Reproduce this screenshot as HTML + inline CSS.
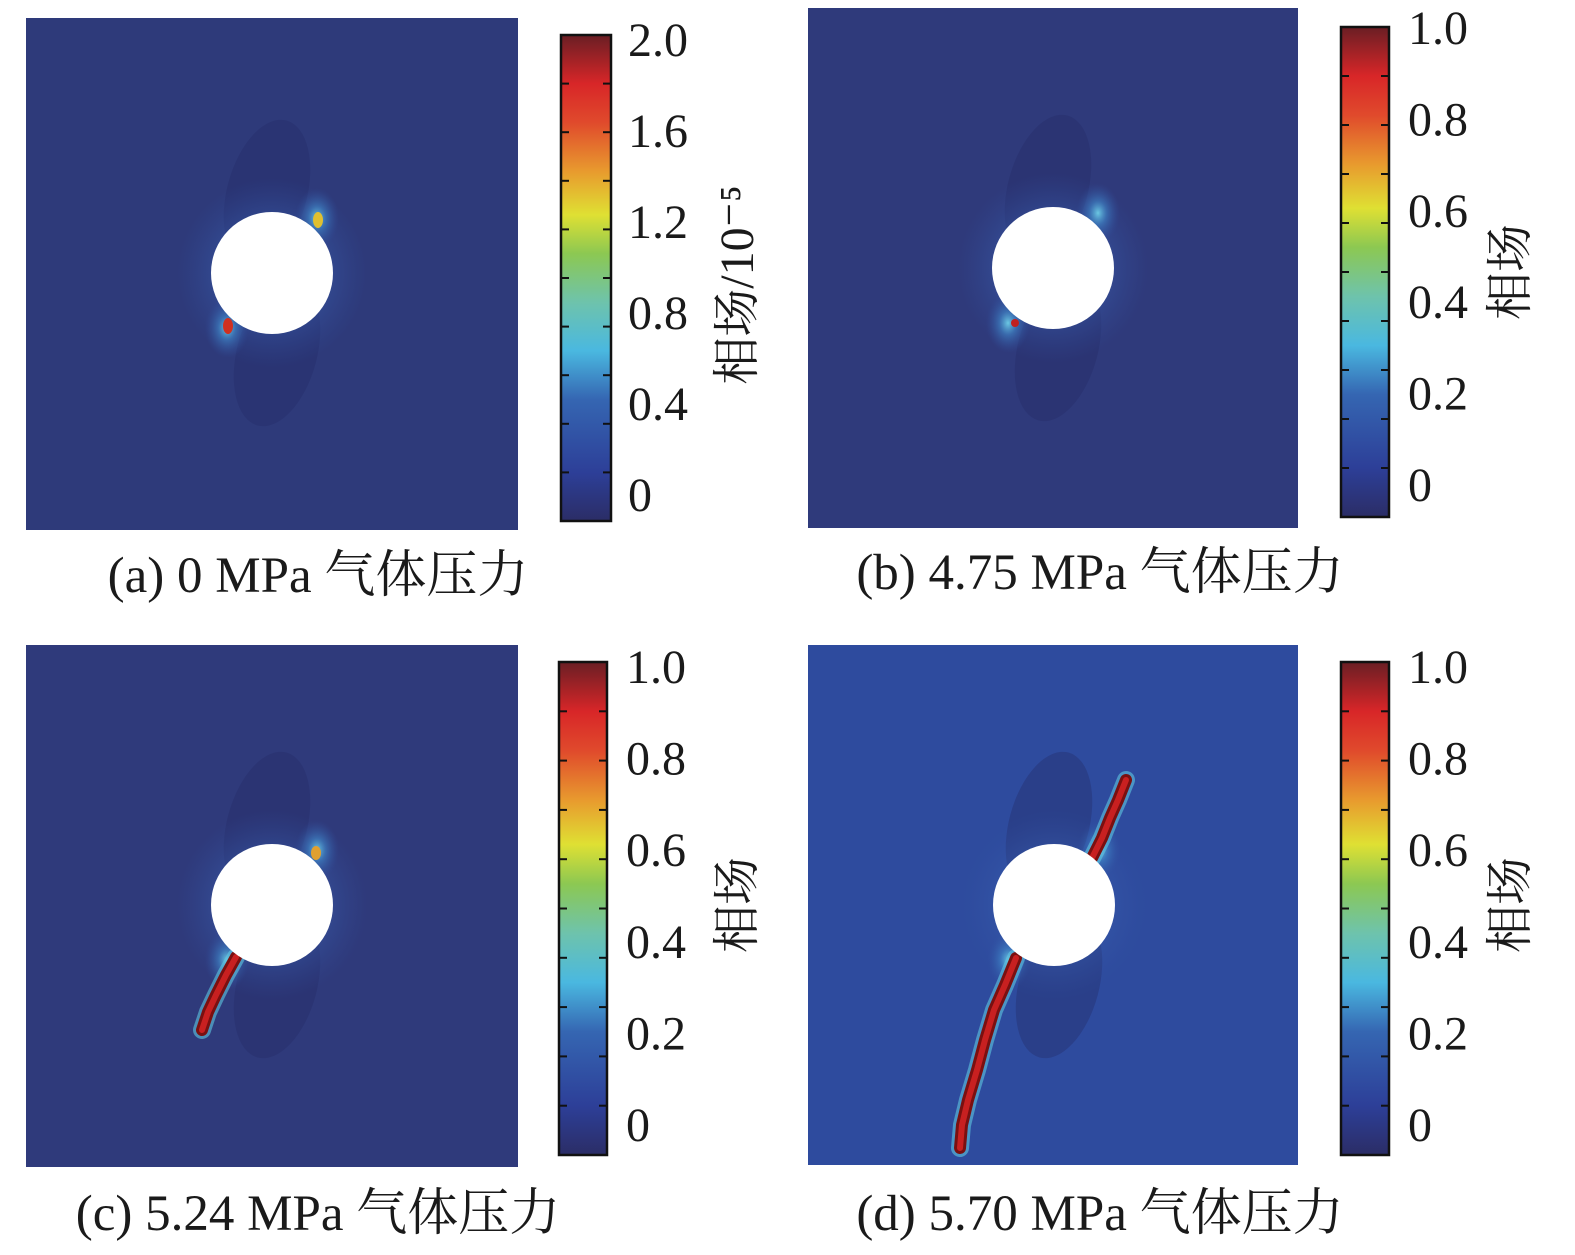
<!DOCTYPE html>
<html><head><meta charset="utf-8">
<style>
html,body{margin:0;padding:0;background:#fff;}
svg{display:block;}
text{font-family:"Liberation Serif","Noto Serif CJK SC","Noto Sans CJK SC",serif;fill:#1a1a1a;}
</style></head>
<body>
<svg id="fig" width="1575" height="1255" viewBox="0 0 1575 1255" xmlns="http://www.w3.org/2000/svg">
<defs>
<linearGradient id="jet" x1="0" y1="1" x2="0" y2="0">
<stop offset="0" stop-color="#2b2d66"/>
<stop offset="0.1" stop-color="#2d3f98"/>
<stop offset="0.25" stop-color="#3566b2"/>
<stop offset="0.35" stop-color="#4ab8e0"/>
<stop offset="0.45" stop-color="#6ec3ac"/>
<stop offset="0.55" stop-color="#8cc852"/>
<stop offset="0.63" stop-color="#dfe033"/>
<stop offset="0.72" stop-color="#e89a2e"/>
<stop offset="0.82" stop-color="#e04a2c"/>
<stop offset="0.9" stop-color="#d82628"/>
<stop offset="1" stop-color="#6a1e24"/>
</linearGradient>
<radialGradient id="glow"><stop offset="0" stop-color="#6fd0e8" stop-opacity="0.95"/><stop offset="0.4" stop-color="#3f86c8" stop-opacity="0.6"/><stop offset="1" stop-color="#3050a0" stop-opacity="0"/></radialGradient>
<radialGradient id="halo"><stop offset="0.5" stop-color="#3a60b0" stop-opacity="0.5"/><stop offset="1" stop-color="#3050a0" stop-opacity="0"/></radialGradient>
</defs>
<g id="panels"></g>
</svg>
<script>
const panelIds = ['a','b','c','d'];
const captions = ['(a) 0 MPa 气体压力','(b) 4.75 MPa 气体压力','(c) 5.24 MPa 气体压力','(d) 5.70 MPa 气体压力'];
const tickLabelsA = ['0','0.4','0.8','1.2','1.6','2.0'];
const tickLabelsB = ['0','0.2','0.4','0.6','0.8','1.0'];
const axisTitles = ['相场/10⁻⁵','相场','相场','相场'];
const crackC = [[236,957],[226,975],[216,995],[208,1012],[202,1030]];
const crackD1 = [[1126,780],[1118,800],[1110,818],[1102,838],[1092,858]];
const crackD2 = [[1016,958],[1005,985],[994,1010],[985,1040],[977,1070],[968,1100],[962,1125],[960,1148]];

const NS='http://www.w3.org/2000/svg';
const root=document.getElementById('panels');
function mk(tag,attrs,parent){const e=document.createElementNS(NS,tag);for(const k in attrs)e.setAttribute(k,attrs[k]);(parent||root).appendChild(e);return e;}

const layout=[
 {img:[26,18,492,512],cc:[272,273],cb:[561,35,50,486],lab:[495,40],lx:628,ttl:[742,285],cap:[318,575],bg:'#2e3a7a',tl:tickLabelsA},
 {img:[808,8,490,520],cc:[1053,268],cb:[1341,27,48,490],lab:[485,28],lx:1408,ttl:[1515,272],cap:[1100,572],bg:'#2f3a7b',tl:tickLabelsB},
 {img:[26,645,492,522],cc:[272,905],cb:[559,662,48,493],lab:[1125,667],lx:626,ttl:[742,905],cap:[318,1213],bg:'#2f3a7b',tl:tickLabelsB},
 {img:[808,645,490,520],cc:[1054,905],cb:[1341,662,48,493],lab:[1125,667],lx:1408,ttl:[1515,905],cap:[1100,1213],bg:'#2e4b9e',tl:tickLabelsB}
];

layout.forEach((L,i)=>{
 const g=mk('g',{});
 
 
 const [x,y,w,h]=L.img;
 const bg=mk('rect',{x:x,y:y,width:w,height:h,fill:L.bg},g);
 
 
 const [cx,cy]=L.cc;
 mk('ellipse',{cx:cx-5,cy:cy-80,rx:40,ry:75,fill:'#262e68',opacity:0.4,transform:`rotate(15 ${cx-5} ${cy-80})`},g);
 mk('ellipse',{cx:cx+5,cy:cy+80,rx:40,ry:75,fill:'#262e68',opacity:0.4,transform:`rotate(15 ${cx+5} ${cy+80})`},g);
 mk('circle',{cx:cx,cy:cy,r:95,fill:'url(#halo)'},g);
 mk('ellipse',{cx:cx+45,cy:cy-55,rx:22,ry:30,fill:'url(#glow)'},g);
 mk('ellipse',{cx:cx-45,cy:cy+55,rx:22,ry:30,fill:'url(#glow)'},g);
 if(i===0){
  mk('ellipse',{cx:cx+46,cy:cy-53,rx:5,ry:8,fill:'#e0c030'},g);
  mk('ellipse',{cx:cx-44,cy:cy+53,rx:5,ry:8,fill:'#d03020'},g);
 }
 if(i===1){mk('ellipse',{cx:cx-38,cy:cy+55,rx:4,ry:4,fill:'#c02020'},g);}
 if(i===2){mk('ellipse',{cx:cx+44,cy:cy-52,rx:5,ry:7,fill:'#e0a030'},g);}
 const drawCrack=(pts,nm)=>{
  const d=pts.map((p,k)=>(k?'L':'M')+p[0]+' '+p[1]).join(' ');
  mk('path',{d:d,stroke:'#5fc6e0','stroke-width':18,fill:'none','stroke-linecap':'round',opacity:0.6},g);
  const c=mk('path',{d:d,stroke:'#7a1010','stroke-width':12,fill:'none','stroke-linecap':'round'},g);
  
  
  mk('path',{d:d,stroke:'#c82020','stroke-width':6,fill:'none','stroke-linecap':'round'},g);
 };
 if(i===2)drawCrack(crackC,'crack-c');
 if(i===3){drawCrack(crackD1,'crack-d-upper');drawCrack(crackD2,'crack-d-lower');}
 const hole=mk('circle',{cx:cx,cy:cy,r:61,fill:'#fff'},g);
 
 
 const [bx,by,bw,bh]=L.cb;
 const cbr=mk('rect',{x:bx,y:by,width:bw,height:bh,fill:'url(#jet)',stroke:'#111','stroke-width':2.5},g);
 
 
 for(let k=1;k<10;k++){
  const ty=by+bh*k/10;
  mk('line',{x1:bx,x2:bx+8,y1:ty,y2:ty,stroke:'#111','stroke-width':2},g);
  mk('line',{x1:bx+bw-8,x2:bx+bw,y1:ty,y2:ty,stroke:'#111','stroke-width':2},g);
 }
 const [y0,y1]=L.lab;
 L.tl.forEach((t,k)=>{
  const ty=y0+(y1-y0)*k/(L.tl.length-1);
  const tx=mk('text',{x:L.lx,y:ty+16,'font-size':48},g);
  tx.textContent=t;
  
  
 });
 const tt=mk('text',{x:L.ttl[0],y:L.ttl[1],'font-size':48,'text-anchor':'middle',transform:`rotate(-90 ${L.ttl[0]} ${L.ttl[1]})`,'dominant-baseline':'middle'},g);
 tt.textContent=axisTitles[i];
 
 
 const cp=mk('text',{x:L.cap[0],y:L.cap[1]+17,'font-size':51,'text-anchor':'middle'},g);
 cp.textContent=captions[i];
 
 
});
</script>
</body></html>
